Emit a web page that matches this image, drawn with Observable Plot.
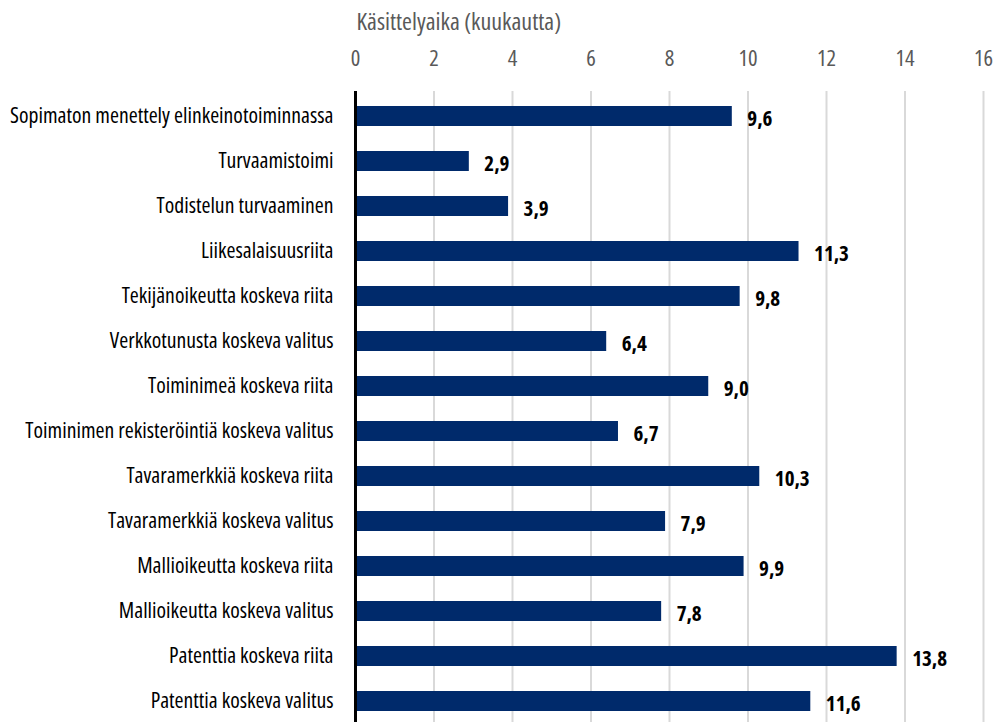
<!DOCTYPE html>
<html>
<head>
<meta charset="utf-8">
<script src="https://cdn.jsdelivr.net/npm/d3@7"></script>
<script src="https://cdn.jsdelivr.net/npm/@observablehq/plot@0.6"></script>
<style>
  html, body { margin: 0; padding: 0; background: #fff; }
  #chart svg { display: block; font-stretch: condensed; }
  #chart svg text { font-stretch: condensed; }
</style>
</head>
<body>
<div id="chart"></div>
<script>
const categories = [
  "Sopimaton menettely elinkeinotoiminnassa",
  "Turvaamistoimi",
  "Todistelun turvaaminen",
  "Liikesalaisuusriita",
  "Tekijänoikeutta koskeva riita",
  "Verkkotunusta koskeva valitus",
  "Toiminimeä koskeva riita",
  "Toiminimen rekisteröintiä koskeva valitus",
  "Tavaramerkkiä koskeva riita",
  "Tavaramerkkiä koskeva valitus",
  "Mallioikeutta koskeva riita",
  "Mallioikeutta koskeva valitus",
  "Patenttia koskeva riita",
  "Patenttia koskeva valitus"
];
const values = [9.6, 2.9, 3.9, 11.3, 9.8, 6.4, 9.0, 6.7, 10.3, 7.9, 9.9, 7.8, 13.8, 11.6];
const xTicks = [0, 2, 4, 6, 8, 10, 12, 14, 16];
const gridTicks = [2, 4, 6, 8, 10, 12, 14, 16];
const axisTitle = ["Käsittelyaika (kuukautta)"];

const data = categories.map((c, i) => ({category: c, value: values[i]}));
const fmt = v => v.toFixed(1).replace(".", ",");
const FONT = "'Open Sans', sans-serif";

const chart = Plot.plot({
  width: 995,
  height: 722,
  marginLeft: 355,
  marginRight: 12,
  marginTop: 91,
  marginBottom: 0,
  style: {fontFamily: FONT, fontSize: "21px", background: "#fff", fontStretch: "condensed"},
  x: {domain: [0, 16], axis: null},
  y: {domain: categories, range: [91, 726], paddingInner: 0.56, paddingOuter: 0.28, axis: null},
  marks: [
    Plot.ruleX(gridTicks, {stroke: "#d9d9d9", strokeWidth: 2}),
    Plot.axisX(xTicks, {anchor: "top", tickSize: 0, tickPadding: 26, label: null, fill: "#595959", fontSize: 22.5}),
    Plot.axisY({anchor: "left", tickSize: 0, tickPadding: 22, label: null, fill: "#000", fontSize: 21.7}),
    Plot.barX(data, {x: "value", y: "category", fill: "#002a6b"}),
    Plot.ruleX([0], {stroke: "#000", strokeWidth: 3}),
    Plot.text(data, {x: "value", y: "category", text: d => fmt(d.value), dx: 15, dy: 3, textAnchor: "start", fontWeight: "bold", fontSize: 21, fill: "#000"}),
    Plot.text(axisTitle, {frameAnchor: "top-left", text: d => d, dx: 1, dy: -79, textAnchor: "start", fill: "#595959", fontSize: 24})
  ]
});
document.getElementById("chart").append(chart);
</script>
</body>
</html>
